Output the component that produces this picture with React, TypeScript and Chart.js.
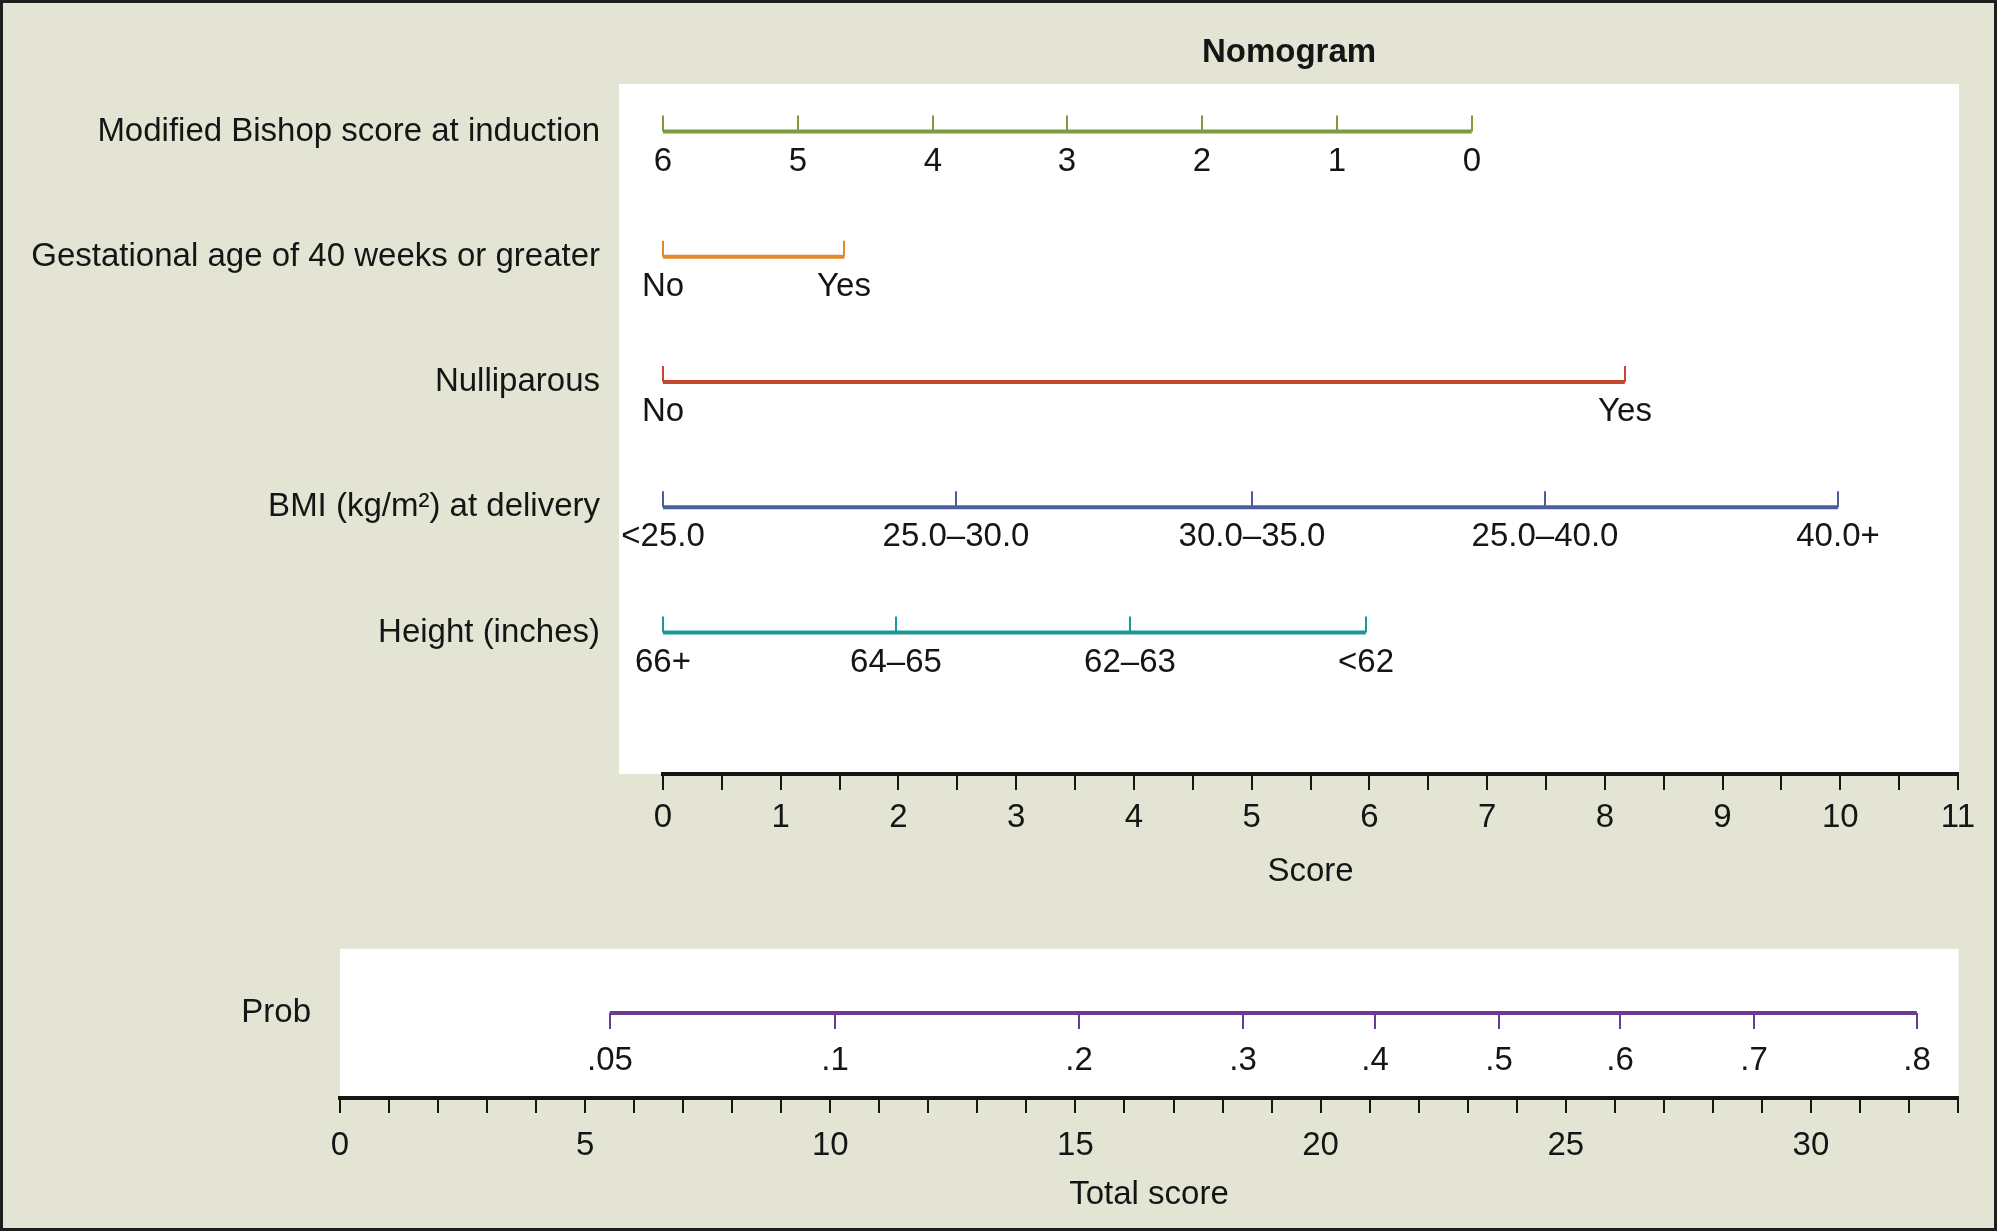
import React, { useEffect, useRef } from 'react';
import { Chart, registerables } from 'chart.js';

Chart.register(...registerables);

// ---------- data ----------
const rowNames = [
  'Modified Bishop score at induction',
  'Gestational age of 40 weeks or greater',
  'Nulliparous',
  'BMI (kg/m²) at delivery',
  'Height (inches)',
];

const bishopLabels = ['6', '5', '4', '3', '2', '1', '0'];
const bishopScores = [0, 1.145, 2.29, 3.435, 4.58, 5.725, 6.87];

const gestLabels = ['No', 'Yes'];
const gestScores = [0, 1.54];

const nulliLabels = ['No', 'Yes'];
const nulliScores = [0, 8.17];

const bmiLabels = ['<25.0', '25.0–30.0', '30.0–35.0', '25.0–40.0', '40.0+'];
const bmiScores = [0, 2.49, 5.0, 7.49, 9.98];

const heightLabels = ['66+', '64–65', '62–63', '<62'];
const heightScores = [0, 1.98, 3.97, 5.97];

const probLabels = ['.05', '.1', '.2', '.3', '.4', '.5', '.6', '.7', '.8'];
const probTotals = [5.5, 10.1, 15.08, 18.42, 21.11, 23.64, 26.1, 28.84, 32.16];

const scoreMin = 0;
const scoreMax = 11;
const scoreStep = 0.5;

const totalMin = 0;
const totalMax = 33;
const totalStep = 1;
const totalLabelEvery = 5;

const titleText = 'Nomogram';
const scoreTitle = 'Score';
const totalTitle = 'Total score';
const probName = 'Prob';

// ---------- styles ----------
const FONT = '"Liberation Sans", Arial, Helvetica, sans-serif';
const FS = 33;
const BG = '#e4e4d4';
const INK = '#151515';
const rowColors = ['#7d9a3e', '#e08a2a', '#c6482a', '#4b5e9c', '#1b9795'];
const probColor = '#6a3a94';

Chart.defaults.font.family = FONT;

const nomogramPlugin = {
  id: 'nomogram',
  beforeDraw(chart: any, _args: any, opts: any) {
    const { ctx, chartArea } = chart;
    ctx.save();
    ctx.fillStyle = '#ffffff';
    const l = chartArea.left - (opts.extendLeft || 0);
    const r = chartArea.right + (opts.extendRight || 0);
    ctx.fillRect(l, chartArea.top, r - l, chartArea.bottom - chartArea.top);
    ctx.restore();
  },
  afterDatasetsDraw(chart: any) {
    const { ctx } = chart;
    const xs = chart.scales.x;
    const ys = chart.scales.y;
    chart.data.datasets.forEach((ds: any) => {
      const y = ys.getPixelForValue(ds.row);
      ctx.save();
      ctx.strokeStyle = ds.borderColor;
      ctx.lineWidth = 2;
      ctx.lineCap = 'butt';
      ctx.fillStyle = INK;
      ctx.font = FS + 'px ' + FONT;
      ctx.textAlign = 'center';
      ctx.textBaseline = 'middle';
      ds.values.forEach((v: number, i: number) => {
        const x = Math.round(xs.getPixelForValue(v));
        ctx.beginPath();
        ctx.moveTo(x, y);
        ctx.lineTo(x, y + ds.tickDir * 16);
        ctx.stroke();
        ctx.fillText(ds.tickLabels[i], x, y + ds.labelOffset);
      });
      ctx.restore();
    });
  },
  afterDraw(chart: any, _args: any, opts: any) {
    if (!opts.title) return;
    const { ctx, chartArea } = chart;
    const l = chartArea.left - (opts.extendLeft || 0);
    const r = chartArea.right + (opts.extendRight || 0);
    ctx.save();
    ctx.fillStyle = INK;
    ctx.font = 'bold ' + FS + 'px ' + FONT;
    ctx.textAlign = 'center';
    ctx.textBaseline = 'middle';
    ctx.fillText(opts.title, (l + r) / 2, chartArea.top - 31);
    ctx.restore();
  },
};

export default function App() {
  const topRef = useRef<HTMLCanvasElement | null>(null);
  const botRef = useRef<HTMLCanvasElement | null>(null);

  useEffect(() => {
    document.body.style.margin = '0';
    const rows = [
      { values: bishopScores, labels: bishopLabels },
      { values: gestScores, labels: gestLabels },
      { values: nulliScores, labels: nulliLabels },
      { values: bmiScores, labels: bmiLabels },
      { values: heightScores, labels: heightLabels },
    ];

    const top = new Chart(topRef.current as HTMLCanvasElement, {
      type: 'line',
      data: {
        datasets: rows.map((r, i) => ({
          data: r.values.map((v) => ({ x: v, y: i })),
          borderColor: rowColors[i],
          borderWidth: 4,
          borderCapStyle: 'butt',
          pointRadius: 0,
          tension: 0,
          fill: false,
          row: i,
          values: r.values,
          tickLabels: r.labels,
          tickDir: -1,
          labelOffset: 30,
        })) as any,
      },
      options: {
        animation: false,
        responsive: false,
        devicePixelRatio: 1,
        events: [],
        layout: { padding: { top: 84, bottom: 7.8, left: 0, right: 39 } },
        plugins: {
          legend: { display: false },
          tooltip: { enabled: false },
          nomogram: { extendLeft: 44, extendRight: 1, title: titleText },
        } as any,
        scales: {
          x: {
            type: 'linear',
            min: scoreMin,
            max: scoreMax,
            afterFit: (s: any) => {
              s.height = 118.2;
            },
            ticks: {
              stepSize: scoreStep,
              autoSkip: false,
              maxRotation: 0,
              padding: 8.5,
              font: { size: FS },
              color: INK,
              callback: (v: any) => (Number.isInteger(Number(v)) ? String(v) : ''),
            },
            grid: {
              display: true,
              drawOnChartArea: false,
              drawTicks: true,
              tickLength: 16,
              color: INK,
              lineWidth: 2,
            },
            border: { display: true, color: INK, width: 4 },
            title: { display: true, text: scoreTitle, font: { size: FS }, color: INK, padding: 0 },
          },
          y: {
            type: 'linear',
            reverse: true,
            min: -0.38,
            max: 5.13,
            afterFit: (s: any) => {
              s.width = 663;
            },
            afterBuildTicks: (s: any) => {
              s.ticks = rowNames.map((_, i) => ({ value: i }));
            },
            ticks: {
              padding: 63,
              autoSkip: false,
              font: { size: FS },
              color: INK,
              callback: (v: any) => rowNames[Math.round(Number(v))] ?? '',
            },
            grid: { display: false, drawTicks: false, tickLength: 0 },
            border: { display: false },
          },
        },
      } as any,
      plugins: [nomogramPlugin as any],
    });

    const bot = new Chart(botRef.current as HTMLCanvasElement, {
      type: 'line',
      data: {
        datasets: [
          {
            data: probTotals.map((v) => ({ x: v, y: 0 })),
            borderColor: probColor,
            borderWidth: 4,
            borderCapStyle: 'butt',
            pointRadius: 0,
            tension: 0,
            fill: false,
            row: 0,
            values: probTotals,
            tickLabels: probLabels,
            tickDir: 1,
            labelOffset: 48,
          },
        ] as any,
      },
      options: {
        animation: false,
        responsive: false,
        devicePixelRatio: 1,
        events: [],
        layout: { padding: { top: 47, bottom: 16, left: 0, right: 39 } },
        plugins: {
          legend: { display: false },
          tooltip: { enabled: false },
          nomogram: { extendLeft: 0, extendRight: 0.5 },
        } as any,
        scales: {
          x: {
            type: 'linear',
            min: totalMin,
            max: totalMax,
            afterFit: (s: any) => {
              s.height = 117;
            },
            ticks: {
              stepSize: totalStep,
              autoSkip: false,
              maxRotation: 0,
              padding: 13.5,
              font: { size: FS },
              color: INK,
              callback: (v: any) => (Number(v) % totalLabelEvery === 0 ? String(v) : ''),
            },
            grid: {
              display: true,
              drawOnChartArea: false,
              drawTicks: true,
              tickLength: 15,
              color: INK,
              lineWidth: 2,
            },
            border: { display: true, color: INK, width: 4 },
            title: { display: true, text: totalTitle, font: { size: FS }, color: INK, padding: 0 },
          },
          y: {
            type: 'linear',
            min: -0.57,
            max: 0.43,
            afterFit: (s: any) => {
              s.width = 340;
            },
            afterBuildTicks: (s: any) => {
              s.ticks = [{ value: 0 }];
            },
            ticks: {
              padding: 29,
              font: { size: FS },
              color: INK,
              callback: () => probName,
            },
            grid: { display: false, drawTicks: false, tickLength: 0 },
            border: { display: false },
          },
        },
      } as any,
      plugins: [nomogramPlugin as any],
    });

    return () => {
      top.destroy();
      bot.destroy();
    };
  }, []);

  return (
    <div style={{ position: 'relative', width: 1997, height: 1231, background: BG, overflow: 'hidden' }}>
      <canvas ref={topRef} width={1997} height={900} style={{ position: 'absolute', left: 0, top: 0, display: 'block' }} />
      <canvas ref={botRef} width={1997} height={331} style={{ position: 'absolute', left: 0, top: 900, display: 'block' }} />
      <div
        style={{
          position: 'absolute',
          left: 0,
          top: 0,
          width: '100%',
          height: '100%',
          border: '3px solid #1e1e1e',
          boxSizing: 'border-box',
          pointerEvents: 'none',
        }}
      />
    </div>
  );
}
